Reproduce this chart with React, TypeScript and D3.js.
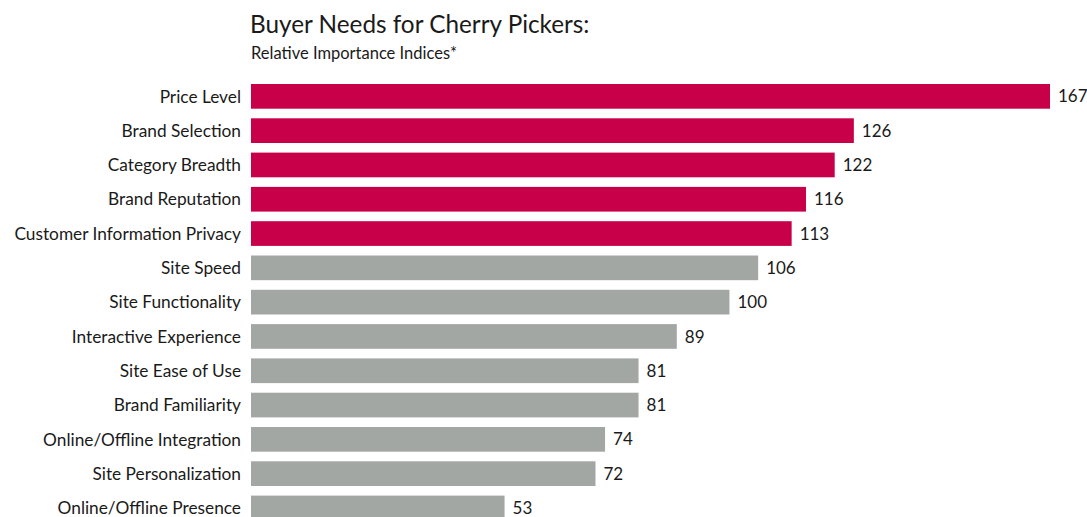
import React from "react";
import * as d3 from "d3";

const categories = [
  "Price Level",
  "Brand Selection",
  "Category Breadth",
  "Brand Reputation",
  "Customer Information Privacy",
  "Site Speed",
  "Site Functionality",
  "Interactive Experience",
  "Site Ease of Use",
  "Brand Familiarity",
  "Online/Offline Integration",
  "Site Personalization",
  "Online/Offline Presence",
];
const values = [167, 126, 122, 116, 113, 106, 100, 89, 81, 81, 74, 72, 53];
const highlighted = [true, true, true, true, true, false, false, false, false, false, false, false, false];

const title = "Buyer Needs for Cherry Pickers:";
const subtitle = "Relative Importance Indices*";

const W = 1087;
const H = 517;
const font = "Lato, 'Open Sans', sans-serif";

export default function App() {
  const x = d3.scaleLinear().domain([0, 167]).range([251, 1050]);
  const step = 34.3;
  const y = d3
    .scaleBand<string>()
    .domain(categories)
    .range([84 - 0.14 * step, 84 - 0.14 * step + step * categories.length])
    .paddingInner(0.28)
    .paddingOuter(0.14);
  const bw = y.bandwidth();
  return (
    <svg
      width={W}
      height={H}
      style={{ position: "absolute", left: 0, top: 0, background: "#fff" }}
      fontFamily={font}
    >
      <text x={250} y={33} fontSize={24.3} fill="#1a1a1a">
        {title}
      </text>
      <text x={251} y={59} fontSize={16.5} fill="#1a1a1a">
        {subtitle}
      </text>
      {categories.map((c, i) => {
        const yy = y(c)!;
        return (
          <g key={c}>
            <rect
              x={x(0)}
              y={yy}
              width={x(values[i]) - x(0)}
              height={bw}
              fill={highlighted[i] ? "#C8004A" : "#A3A7A4"}
            />
            <text
              x={241}
              y={yy + bw / 2}
              dy="0.36em"
              textAnchor="end"
              fontSize={17.3}
              fill="#1a1a1a"
            >
              {c}
            </text>
            <text
              x={x(values[i]) + 8}
              y={yy + bw / 2}
              dy="0.36em"
              fontSize={17}
              fill="#1a1a1a"
            >
              {values[i]}
            </text>
          </g>
        );
      })}
    </svg>
  );
}
